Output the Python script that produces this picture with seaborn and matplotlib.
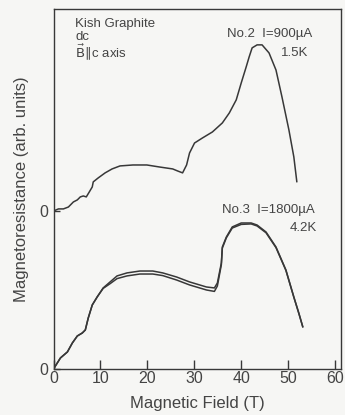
import numpy as np
import pandas as pd
import matplotlib
matplotlib.use("Agg")
import matplotlib.pyplot as plt
import seaborn as sns

# ---- data ----
# No.2, I=900uA, 1.5K  (offset trace, its zero at y=1.0)
field_no2 = [0.0, 1.06, 2.11, 3.17, 4.23, 5.07, 5.71, 6.34, 6.98, 7.61, 8.25, 8.46, 9.51,
             10.99, 12.47, 14.16, 16.91, 19.87, 22.62, 25.37, 26.43, 27.48, 28.33, 28.96,
             30.02, 31.71, 33.83, 35.94, 37.42, 38.90, 39.96, 41.01, 41.65, 42.28, 43.34,
             44.40, 45.88, 47.36, 48.63, 50.11, 51.16, 51.80]
mr_no2 = [1.000, 1.013, 1.013, 1.025, 1.057, 1.070, 1.089, 1.095, 1.089, 1.120, 1.152, 1.184,
          1.209, 1.241, 1.266, 1.285, 1.291, 1.291, 1.278, 1.266, 1.253, 1.241, 1.291, 1.367,
          1.430, 1.462, 1.500, 1.557, 1.620, 1.703, 1.810, 1.911, 1.975, 2.032, 2.051, 2.051,
          2.000, 1.892, 1.722, 1.513, 1.342, 1.184]

# No.3, I=1800uA, 4.2K  (two sweeps)
field_no3 = [0.0, 1.48, 2.96, 4.02, 5.07, 6.13, 6.77, 7.40, 8.25, 9.30, 10.57, 12.05, 13.53,
             15.64, 18.39, 21.14, 23.26, 26.22, 28.96, 32.56, 34.25, 34.88, 35.73, 35.94,
             36.79, 38.05, 39.96, 42.07, 43.34, 45.24, 47.36, 49.47, 51.16, 52.22, 53.07]
mr_no3_a = [0.000, 0.070, 0.108, 0.165, 0.209, 0.228, 0.247, 0.323, 0.405, 0.456, 0.513,
            0.551, 0.589, 0.608, 0.620, 0.620, 0.608, 0.582, 0.551, 0.519, 0.513, 0.544,
            0.671, 0.772, 0.835, 0.899, 0.924, 0.924, 0.911, 0.867, 0.772, 0.627, 0.456,
            0.354, 0.266]
mr_no3_b = [0.000, 0.070, 0.108, 0.165, 0.209, 0.228, 0.247, 0.323, 0.405, 0.456, 0.510,
            0.540, 0.572, 0.589, 0.601, 0.601, 0.591, 0.563, 0.532, 0.500, 0.491, 0.525,
            0.660, 0.765, 0.830, 0.892, 0.915, 0.918, 0.905, 0.862, 0.768, 0.624, 0.454,
            0.352, 0.266]

x_ticks = [0, 10, 20, 30, 40, 50, 60]
y_ticks = [0.0, 1.0]
y_tick_labels = ["0", "0"]

df = pd.concat([
    pd.DataFrame({"field": field_no2, "mr": mr_no2, "trace": "No.2"}),
    pd.DataFrame({"field": field_no3, "mr": mr_no3_a, "trace": "No.3a"}),
    pd.DataFrame({"field": field_no3, "mr": mr_no3_b, "trace": "No.3b"}),
], ignore_index=True)

sns.set_style("ticks")
plt.rcParams["font.family"] = ["Liberation Sans", "DejaVu Sans"]

ink = "#383838"
txt = "#444444"
fig = plt.figure(figsize=(3.45, 4.15), dpi=100)
fig.patch.set_facecolor("#f6f6f4")
ax = fig.add_axes([53.5 / 345, 46 / 415, (341 - 53.5) / 345, (369 - 9) / 415])
ax.set_facecolor("#f6f6f4")

for name in ["No.2", "No.3a", "No.3b"]:
    sub = df[df["trace"] == name]
    sns.lineplot(data=sub, x="field", y="mr", ax=ax, color=ink, linewidth=1.1,
                 sort=False, estimator=None, legend=False)

ax.set_xlim(0, 61.2)
ax.set_ylim(0, 2.278)
ax.set_xticks(x_ticks)
ax.set_xticklabels([str(v) for v in x_ticks])
ax.set_yticks(y_ticks)
ax.set_yticklabels(y_tick_labels)
ax.tick_params(axis="x", direction="in", length=6.5, width=1.0, color=ink,
               labelsize=11.5, labelcolor=txt, pad=1.5)
ax.tick_params(axis="y", direction="in", length=4, width=1.0, color=ink,
               labelsize=11.5, labelcolor=txt, pad=4)
for s in ax.spines.values():
    s.set_color(ink)
    s.set_linewidth(1.0)

ax.set_xlabel("Magnetic Field (T)", fontsize=12, color=txt, labelpad=7)
ax.set_ylabel("Magnetoresistance (arb. units)", fontsize=12, color=txt, labelpad=7)

# annotations (axes fraction coordinates)
def px(xp, yp):
    return ((xp - 53.5) / (341 - 53.5), (369 - yp) / (369 - 9))

kw = dict(transform=ax.transAxes, color=txt, fontsize=9.5, va="center")
ax.text(*px(75, 24), "Kish Graphite", ha="left", **kw)
ax.text(*px(75, 37), "dc", ha="left", **kw)
ax.text(*px(75, 52), r"$\vec{\mathrm{B}}\!\parallel\!$c axis", ha="left", **kw)
ax.text(*px(312, 34), "No.2  I=900\u00b5A", ha="right", **kw)
ax.text(*px(308, 53), "1.5K", ha="right", **kw)
ax.text(*px(315, 210), "No.3  I=1800\u00b5A", ha="right", **kw)
ax.text(*px(317, 228), "4.2K", ha="right", **kw)

fig.savefig("out.png", dpi=100, facecolor=fig.get_facecolor())
